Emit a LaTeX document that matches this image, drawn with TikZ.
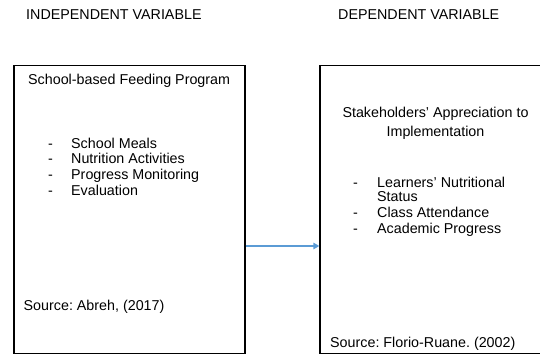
\documentclass[tikz,border=0pt]{standalone}
\usepackage{fontspec}
\setmainfont{Liberation Sans}
\usetikzlibrary{arrows.meta}
\definecolor{linkblue}{HTML}{5B9BD5}
\frenchspacing
\tikzset{
  frame/.style={draw=black, line width=1.3pt, rectangle, inner sep=0pt},
  txt/.style={anchor=base west, inner sep=0pt, font=\fontsize{14.3}{16}\selectfont},
  ctxt/.style={anchor=base, inner sep=0pt, font=\fontsize{14.3}{16}\selectfont},
  link/.style={draw=linkblue, line width=1.4pt, -{Triangle[length=6pt,width=6.5pt]}}
}
\begin{document}
\begin{tikzpicture}[x=1pt, y=-1pt]
  \useasboundingbox (0,0) rectangle (540,355);
  \clip (0,0) rectangle (540,355);

  % column headings
  \node[txt] (ivhead) at (26,19.3) {INDEPENDENT VARIABLE};
  \node[txt] (dvhead) at (338,19.3) {DEPENDENT VARIABLE};

  % the two frames
  \node[frame, minimum width=231pt, minimum height=288pt] (ivbox) at (129.5,209.5) {};
  \node[frame, minimum width=226pt, minimum height=288pt] (dvbox) at (433,209.5) {};

  % independent variable contents
  \node[txt] (ivtitle) at (28,84.5) {School-based Feeding Program};
  \foreach \y/\name/\label in {148.3/a/School Meals, 164/b/Nutrition Activities,
                               179.8/c/Progress Monitoring, 195.6/d/Evaluation}{
    \node[txt] (ivdash\name) at (48,\y) {-};
    \node[txt] (ivitem\name) at (71,\y) {\label};
  }
  \node[txt] (ivsrc) at (23.5,310.7) {Source: Abreh, (2017)};

  % dependent variable contents
  \node[ctxt] (dvtitle1) at (435.5,117.3) {Stakeholders’ Appreciation to};
  \node[ctxt] (dvtitle2) at (435.5,136.7) {Implementation};
  \node[txt] (dvdasha) at (353,187.3) {-};
  \node[txt] (dvitema) at (377,187.3) {Learners’ Nutritional};
  \node[txt] (dvitemb) at (377,202) {Status};
  \node[txt] (dvdashc) at (353,217.8) {-};
  \node[txt] (dvitemc) at (377,217.8) {Class Attendance};
  \node[txt] (dvdashd) at (353,233.5) {-};
  \node[txt] (dvitemd) at (377,233.5) {Academic Progress};
  \node[txt] (dvsrc) at (330,347.7) {Source: Florio-Ruane. (2002)};

  % connector between the frames
  \coordinate (linklevel) at (0,246);
  \draw[link] (ivbox.east |- linklevel) -- (dvbox.west |- linklevel);
\end{tikzpicture}
\end{document}
